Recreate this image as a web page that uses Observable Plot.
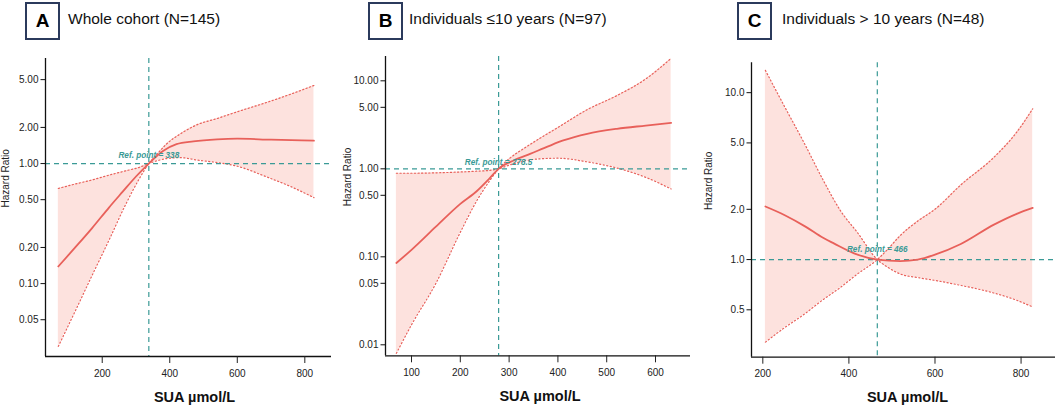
<!DOCTYPE html>
<html><head><meta charset="utf-8">
<script src="https://cdn.jsdelivr.net/npm/d3@7"></script>
<script src="https://cdn.jsdelivr.net/npm/@observablehq/plot@0.6"></script>
<style>
body{margin:0;background:#fff;font-family:"Liberation Sans",Arial,sans-serif;}
#wrap{position:relative;width:1056px;height:412px;overflow:hidden;background:#fff;}
.panel{position:absolute;top:0;}
.box{position:absolute;top:2px;width:31px;height:34px;border:2px solid #2b3a5c;background:#fff;font-weight:bold;font-size:19px;display:flex;align-items:center;justify-content:center;color:#000;}
.ttl{position:absolute;top:10px;font-size:15.5px;color:#111;white-space:nowrap;}
svg text{font-family:"Liberation Sans",Arial,sans-serif;}
</style></head>
<body><div id="wrap"></div>
<script>
// Panel A: Whole cohort — main estimate
const aX     = [70, 120, 170, 220, 260, 300, 338, 380, 420, 470, 540, 600, 700, 827];
const aHR    = [0.139, 0.20, 0.29, 0.43, 0.58, 0.78, 1.0, 1.27, 1.45, 1.53, 1.59, 1.61, 1.58, 1.55];
// Panel A: confidence band (two crossing dotted curves)
const aCIX   = [70, 120, 170, 220, 270, 310, 338, 365, 391, 432, 480, 540, 600, 689, 760, 827];
const aCI1   = [0.62, 0.675, 0.73, 0.80, 0.87, 0.93, 1.0, 1.06, 1.10, 1.12, 1.07, 1.02, 0.95, 0.77, 0.64, 0.52];
const aCI2   = [0.030, 0.059, 0.117, 0.23, 0.46, 0.75, 1.0, 1.22, 1.46, 1.77, 2.1, 2.37, 2.7, 3.24, 3.8, 4.47];
// Panel B: <=10 years
const bX     = [69, 100, 150, 200, 234, 260, 278.5, 310, 343, 380, 411, 460, 521, 580, 632];
const bHR    = [0.085, 0.12, 0.22, 0.40, 0.56, 0.78, 1.0, 1.25, 1.48, 1.8, 2.1, 2.5, 2.85, 3.1, 3.33];
const bCIX   = [69, 100, 150, 200, 234, 260, 278.5, 300, 330, 356, 400, 460, 521, 580, 632];
const bCI1   = [0.89, 0.89, 0.90, 0.92, 0.94, 0.96, 1.0, 1.10, 1.22, 1.29, 1.32, 1.2, 1.02, 0.8, 0.59];
const bCI2   = [0.008, 0.0169, 0.050, 0.19, 0.436, 0.73, 1.0, 1.3, 1.7, 2.1, 2.95, 4.7, 6.8, 10.5, 18];
// Panel C: >10 years
const cX     = [206, 250, 300, 340, 365, 420, 466, 519, 560, 600, 660, 737, 790, 827];
const cHR    = [2.08, 1.85, 1.57, 1.35, 1.25, 1.07, 1.0, 0.98, 1.0, 1.07, 1.24, 1.62, 1.88, 2.04];
const cCIX   = [206, 250, 296, 340, 380, 420, 466, 490, 519, 560, 600, 660, 737, 790, 827];
const cCI1   = [13.6, 8.3, 5.0, 3.0, 1.97, 1.45, 1.0, 0.90, 0.82, 0.78, 0.75, 0.70, 0.63, 0.57, 0.52];
const cCI2   = [0.32, 0.39, 0.47, 0.575, 0.68, 0.82, 1.0, 1.15, 1.39, 1.70, 2.0, 2.8, 4.1, 5.8, 8.0];

const refs   = [338, 278.5, 466];
const refLabels = ["Ref. point = 338", "Ref. point = 278.5", "Ref. point = 466"];
const titles = ["Whole cohort (N=145)", "Individuals \u226410 years (N=97)", "Individuals > 10 years (N=48)"];
const letters = ["A", "B", "C"];
const aYTicks = [0.05, 0.10, 0.20, 0.50, 1.00, 2.00, 5.00];
const bYTicks = [0.01, 0.05, 0.10, 0.50, 1.00, 5.00, 10.00];
const cYTicks = [0.5, 1.0, 2.0, 5.0, 10.0];
const aXTicks = [200, 400, 600, 800];
const bXTicks = [100, 200, 300, 400, 500, 600];
const cXTicks = [200, 400, 600, 800];
const xLabel = "SUA \u00b5mol/L";
const yLabel = "Hazard Ratio";

const FILL = "#fde2de", RED = "#e8605a", TEAL = "#3a9a96", INK = "#111";

const main = (xs, hr) => xs.map((x, i) => ({x, hr: hr[i]}));
const band = (xs, c1, c2) => xs.map((x, i) => ({x, c1: c1[i], c2: c2[i]}));

const panels = [
  {left:0,   width:345, ml:45, mr:14, mt:58,   mb:56,   xd:[32,879],     yd:[0.0247,7.5],  line:main(aX,aHR), ci:band(aCIX,aCI1,aCI2), yt:aYTicks, xt:aXTicks, fmt:".2f", hdx:-40, rdy:-8, ldx:6, tl:25,  tt:68},
  {left:340, width:353, ml:45, mr:3,  mt:56,   mb:56.7, xd:[46.7,671.7], yd:[0.0075,18.9], line:main(bX,bHR), ci:band(bCIX,bCI1,bCI2), yt:bYTicks, xt:bXTicks, fmt:".2f", hdx:-38, rdy:-6, ldx:2, tl:368, tt:409},
  {left:700, width:356, ml:51, mr:1,  mt:62.3, mb:55.3, xd:[173.7,880],  yd:[0.26,15.1],   line:main(cX,cHR), ci:band(cCIX,cCI1,cCI2), yt:cYTicks, xt:cXTicks, fmt:".1f", hdx:-43, rdy:-10, ldx:4, tl:737, tt:782}
];

// a short horizontal tick pointing left of the anchor, used as a dot symbol
const leftTick = {draw(ctx) { ctx.moveTo(-5, 0); ctx.lineTo(0, 0); }};

const wrap = document.getElementById("wrap");
panels.forEach((p, i) => {
  const curve = "monotone-x";
  const dots = {stroke: RED, strokeWidth: 1.2, strokeDasharray: "1.2,2.4", curve};
  const fmt = d3.format(p.fmt);
  const chart = Plot.plot({
    width: p.width, height: 412,
    marginLeft: p.ml, marginRight: p.mr, marginTop: p.mt, marginBottom: p.mb,
    style: {background: "transparent", overflow: "visible", fontSize: "10px", color: "#222"},
    x: {domain: p.xd},
    y: {type: "log", domain: p.yd, axis: null},
    marks: [
      Plot.areaY(p.ci, {x: "x", y1: "c1", y2: "c2", fill: FILL, curve}),
      Plot.line(p.ci, {x: "x", y: "c1", ...dots}),
      Plot.line(p.ci, {x: "x", y: "c2", ...dots}),
      Plot.ruleY([1], {stroke: TEAL, strokeWidth: 1.2, strokeDasharray: "5,4"}),
      Plot.ruleX([refs[i]], {stroke: TEAL, strokeWidth: 1.2, strokeDasharray: "5,4"}),
      Plot.line(p.line, {x: "x", y: "hr", stroke: RED, strokeWidth: 1.8, curve}),
      Plot.text([refLabels[i]], {x: refs[i], y: 1, dy: p.rdy, text: d => d, fill: TEAL, fontSize: 8.2, fontWeight: "bold", fontStyle: "italic", textAnchor: "middle"}),
      Plot.ruleX([p.xd[0]], {stroke: INK, strokeWidth: 1.3}),
      Plot.ruleY([p.yd[0]], {stroke: INK, strokeWidth: 1.3}),
      Plot.axisX(p.xt, {tickSize: 7, tickPadding: 6, label: null, fontSize: 10, tickFormat: d3.format("d")}),
      // y axis ticks and labels drawn on the log y scale
      Plot.dot(p.yt, {y: d => d, frameAnchor: "left", symbol: leftTick, stroke: INK, strokeWidth: 1, r: 3}),
      Plot.text(p.yt, {y: d => d, frameAnchor: "left", dx: -7, textAnchor: "end", text: d => fmt(d), fontSize: 10, fill: "#222"}),
      Plot.text([xLabel], {frameAnchor: "bottom", dy: 45, dx: p.ldx, text: d => d, fontSize: 14.5, fontWeight: "bold", fill: INK}),
      Plot.text([yLabel], {frameAnchor: "left", dx: p.hdx, rotate: -90, text: d => d, fontSize: 10, fill: "#222"})
    ]
  });
  chart.classList.add("panel");
  chart.style.left = p.left + "px";
  wrap.appendChild(chart);

  const box = document.createElement("div");
  box.className = "box"; box.style.left = p.tl + "px"; box.textContent = letters[i];
  wrap.appendChild(box);
  const t = document.createElement("div");
  t.className = "ttl"; t.style.left = p.tt + "px"; t.textContent = titles[i];
  wrap.appendChild(t);
});
</script>
</body></html>
